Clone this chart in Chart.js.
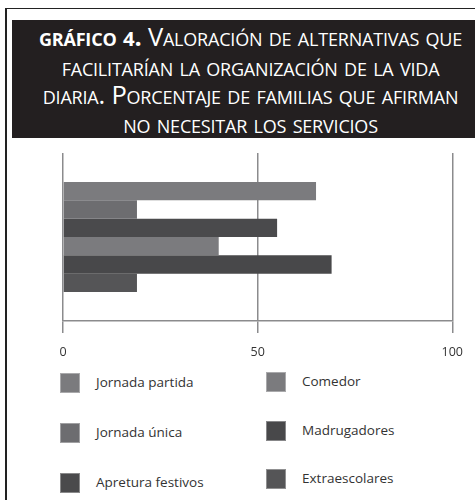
<!DOCTYPE html>
<html>
<head>
<meta charset="utf-8">
<script src="https://cdn.jsdelivr.net/npm/chart.js@4.4.1/dist/chart.umd.min.js"></script>
<style>
  html,body{margin:0;padding:0;background:#fff;}
  body{width:475px;height:500px;position:relative;overflow:hidden;font-family:"Open Sans",sans-serif;}
  #frame{position:absolute;left:5px;top:8px;width:470px;height:492px;border-top:1.5px solid #222;border-left:2px solid #222;box-sizing:border-box;}
  #title{position:absolute;left:12px;top:20px;width:463px;height:118px;background:#231f20;color:#fff;
    text-align:center;font-variant:small-caps;font-size:25.5px;line-height:28.2px;padding-top:2px;box-sizing:border-box;padding-left:14px;letter-spacing:-0.2px;white-space:nowrap;}
  #title b{font-weight:700;}
  #title .n{font-size:0.8em;}
  #chartwrap{position:absolute;left:0;top:0;width:475px;height:361px;}
  .lg-box{position:absolute;width:20px;height:20px;box-sizing:border-box;border:1px solid rgba(255,255,255,0.35);}
  .lg-txt{position:absolute;font-size:13.5px;color:#333;line-height:20px;white-space:nowrap;}
</style>
</head>
<body>
<div id="frame"></div>
<div id="title"><b>gráfico <span class="n">4</span>.</b> Valoración de alternativas que<br>facilitarían la organización de la vida<br>diaria. Porcentaje de familias que afirman<br>no necesitar los servicios</div>
<div id="chartwrap"><canvas id="c" width="475" height="361"></canvas></div>
<div id="legend"></div>
<script>
const categories = [''];
const seriesNames = ['Jornada partida','Jornada única','Apretura festivos','Comedor','Madrugadores','Extraescolares'];
const seriesValues = [65, 19, 55, 40, 69, 19];
const seriesColors = ['#7b7b7e','#6d6d70','#4a4a4c','#7b7b7e','#48484a','#555557'];
const tickValues = [0, 50, 100];

const datasets = seriesNames.map((n,i)=>({
  label:n, data:[seriesValues[i]], backgroundColor:seriesColors[i],
  borderWidth:0, categoryPercentage:0.655, barPercentage:1
}));

new Chart(document.getElementById('c'),{
  type:'bar',
  data:{labels:categories,datasets},
  options:{
    indexAxis:'y',
    responsive:false,
    animation:false,
    events:[],
    layout:{padding:{left:63,right:22,top:153,bottom:0}},
    plugins:{legend:{display:false},tooltip:{enabled:false},title:{display:false}},
    scales:{
      y:{display:false},
      x:{
        min:0,max:100,
        afterBuildTicks:(ax)=>{ax.ticks=tickValues.map(v=>({value:v}));},
        afterFit:(ax)=>{ax.height=40;},
        grid:{color:'#8b8b8d',lineWidth:1.5,tickLength:12,drawTicks:true},
        border:{display:true,color:'#8b8b8d',width:1.5},
        ticks:{padding:12,color:'#333',font:{family:'Open Sans',size:12.5},maxRotation:0,autoSkip:false}
      }
    }
  }
});

const lg = document.getElementById('legend');
seriesNames.forEach((n,i)=>{
  const col = Math.floor(i/3), row = i%3;
  const left = col===0 ? 60 : 266;
  const top = col===0 ? 373 + row*50 : 372 + row*48.5;
  const b = document.createElement('div');
  b.className='lg-box'; b.style.left=left+'px'; b.style.top=top+'px'; b.style.background=seriesColors[i];
  const t = document.createElement('div');
  t.className='lg-txt'; t.style.left=(left+36)+'px'; t.style.top=(top-1)+'px'; t.textContent=n;
  lg.appendChild(b); lg.appendChild(t);
});
</script>
</body>
</html>
